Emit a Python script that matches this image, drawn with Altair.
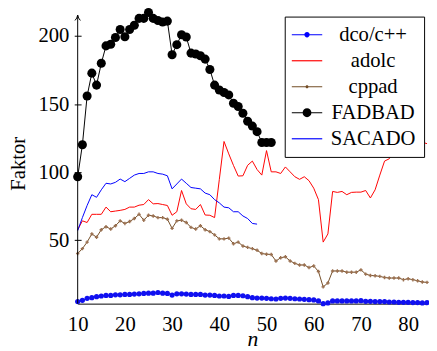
import altair as alt
import pandas as pd

series = ["dco/c++", "adolc", "cppad", "FADBAD", "SACADO"]
colors = ["#0000ff", "#ff0000", "#734d26", "#000000", "#0000ff"]

n_all = list(range(10, 85))
dco = [5.0, 5.9, 7.4, 7.9, 8.6, 9.1, 9.5, 9.5, 10.0, 10.0, 10.3, 10.3, 10.5, 10.7, 11.0,
       11.2, 11.2, 11.7, 11.2, 11.0, 9.8, 10.7, 10.7, 10.5, 10.3, 10.3, 10.3, 9.8, 9.8, 9.5,
       9.1, 9.1, 8.8, 9.5, 9.5, 9.3, 8.6, 7.9, 7.6, 7.6, 7.4, 7.1, 6.9, 7.4, 7.6,
       7.4, 7.1, 6.9, 6.7, 6.4, 6.2, 5.5, 3.5, 4.0, 5.5, 5.5, 5.5, 5.5, 5.5, 5.5,
       5.7, 5.2, 5.2, 5.0, 5.0, 5.0, 4.7, 4.7, 4.5, 4.5, 4.5, 4.3, 4.3, 4.0, 4.2]
adolc = [57.8, 64.3, 63.1, 69.1, 69.1, 69.1, 74.4, 71.0, 71.5, 72.0, 72.7, 74.4, 74.4, 75.8, 76.3,
         79.9, 76.8, 77.0, 76.3, 75.6, 68.4, 71.0, 86.6, 76.8, 73.2, 72.7, 76.3, 68.6, 68.4, 66.7,
         94.6, 122.6, 113.5, 105.0, 97.2, 97.4, 105.1, 108.2, 102.0, 97.9, 115.9, 100.3, 100.3, 99.1, 103.9,
         100.3, 96.7, 94.8, 96.7, 93.8, 88.3, 79.9, 48.7, 54.7, 85.9, 85.2, 85.9, 83.5, 85.2, 85.4,
         85.4, 86.6, 81.1, 87.1, 97.9, 108.2, 109.9, 116.0, 118.0, 120.0, 121.0, 122.0, 121.0, 122.0, 121.0]
cppad = [40.3, 43.9, 48.7, 54.7, 52.3, 57.8, 60.0, 58.3, 60.7, 64.3, 62.4, 63.8, 66.0, 69.1, 64.8,
         68.4, 67.9, 66.7, 66.7, 65.5, 58.8, 64.3, 64.8, 63.1, 59.5, 58.3, 60.7, 57.8, 56.4, 54.0,
         51.1, 51.1, 51.6, 47.5, 48.7, 45.8, 44.8, 43.9, 42.7, 40.3, 39.8, 39.6, 34.8, 37.2, 37.9,
         34.8, 33.1, 31.9, 31.9, 30.0, 31.2, 27.1, 15.8, 18.7, 27.5, 27.5, 27.5, 26.6, 26.6, 26.6,
         28.3, 25.2, 24.2, 24.0, 23.5, 22.7, 22.3, 22.3, 22.3, 21.1, 21.8, 21.1, 20.3, 19.4, 19.1]
n_fadbad = list(range(10, 52))
fadbad = [96.7, 120.2, 156.0, 172.8, 164.0, 180.0, 192.8, 194.0, 199.0, 204.8, 199.5, 204.8, 208.0, 213.0,
          213.0, 217.3, 213.0, 211.5, 210.3, 211.0, 186.3, 193.7, 201.0, 199.3, 187.5, 186.8, 185.6, 183.1,
          175.5, 164.0, 160.4, 158.6, 156.8, 150.7, 148.3, 143.3, 137.5, 133.9, 129.8, 121.9, 121.9, 121.9]
n_sacado = list(range(10, 49))
sacado = [57.1, 66.7, 75.6, 83.5, 81.6, 87.1, 91.9, 91.4, 92.6, 95.0, 93.1, 95.5, 97.9, 99.1, 99.1,
          100.3, 100.3, 99.1, 98.6, 97.4, 87.8, 91.4, 95.0, 91.9, 88.8, 88.3, 87.8, 84.7, 83.5, 79.9,
          77.5, 74.4, 73.9, 71.0, 71.0, 67.9, 66.0, 62.4, 61.9]

x_ticks = [10, 20, 30, 40, 50, 60, 70, 80]
y_ticks = [50, 100, 150, 200]

rows = []
for name, ns, vals in [("dco/c++", n_all, dco), ("adolc", n_all, adolc), ("cppad", n_all, cppad),
                       ("FADBAD", n_fadbad, fadbad), ("SACADO", n_sacado, sacado)]:
    for a, b in zip(ns, vals):
        rows.append({"n": a, "value": b, "series": name})
df = pd.DataFrame(rows)

FONT = "Liberation Serif"
W, H = 356, 294

x_enc = alt.X("n:Q", scale=alt.Scale(domain=[10, 84], nice=False, zero=False),
              axis=alt.Axis(values=x_ticks, title="n", grid=False, tickSize=0,
                            domainColor="black", domainWidth=1, labelFlush=False,
                            labelFont=FONT, labelFontSize=21, labelColor="black",
                            labelBaseline="alphabetic", labelPadding=27,
                            titleFont=FONT, titleFontSize=22, titleFontStyle="italic",
                            titleFontWeight="normal", titleColor="black",
                            titleBaseline="alphabetic", titleY=43))
y_enc = alt.Y("value:Q", scale=alt.Scale(domain=[3.5, 215.4], nice=False, zero=False),
              axis=alt.Axis(values=y_ticks, title="Faktor", grid=False, domain=False,
                            tickSize=7, offset=-3.5, tickColor="black", tickWidth=1,
                            labelFlush=False,
                            labelFont=FONT, labelFontSize=21, labelColor="black", labelPadding=5.5,
                            titleFont=FONT, titleFontSize=21, titleFontWeight="normal",
                            titleColor="black", titleAngle=-90, titleAlign="center",
                            titleBaseline="middle", titleX=-64, titleY=151))

def sub(name):
    return alt.Chart(df).transform_filter(alt.datum.series == name)

layers = []
# dco/c++
layers.append(sub("dco/c++").mark_line(color="#0000ff", strokeWidth=1).encode(x=x_enc, y=y_enc))
layers.append(sub("dco/c++").mark_point(filled=True, color="#1010f0", size=28, opacity=1).encode(x=x_enc, y=y_enc))
# adolc
layers.append(sub("adolc").mark_line(color="#ff0000", strokeWidth=1).encode(x=x_enc, y=y_enc))
# cppad
layers.append(sub("cppad").mark_line(color="#734d26", strokeWidth=1).encode(x=x_enc, y=y_enc))
layers.append(sub("cppad").mark_point(filled=True, shape="cross", color="#9a7050", size=12, opacity=1).encode(x=x_enc, y=y_enc))
# FADBAD
layers.append(sub("FADBAD").mark_line(color="#000000", strokeWidth=1).encode(x=x_enc, y=y_enc))
layers.append(sub("FADBAD").mark_point(filled=True, color="#000000", size=85, opacity=1).encode(x=x_enc, y=y_enc))
# SACADO
layers.append(sub("SACADO").mark_line(color="#0000ff", strokeWidth=1).encode(x=x_enc, y=y_enc))

# legend-only layer
L0, L1, T = -1.13, 1.97, 0.06
line_p = f"M{L0},{-T}L{L1},{-T}L{L1},{T}L{L0},{T}Z"
def dot(r, cx=0.42):
    return f"M{cx - r},0A{r},{r},0,1,1,{cx + r},0A{r},{r},0,1,1,{cx - r},0Z"
shapes = [line_p + dot(0.27), line_p, line_p + dot(0.16), line_p + dot(0.45), line_p]

legend_layer = alt.Chart(df).transform_filter("false").mark_point(filled=True, opacity=1).encode(
    x=x_enc, y=y_enc,
    color=alt.Color("series:N", scale=alt.Scale(domain=series, range=colors),
                    legend=alt.Legend(title=None, orient="none", legendX=211, legendY=1.5,
                                      padding=8, rowPadding=4.5, symbolSize=400,
                                      symbolStrokeWidth=0, labelFont=FONT, labelFontSize=21,
                                      labelColor="black", labelAlign="center", labelOffset=61,
                                      labelLimit=300, strokeColor="black", fillColor="white",
                                      cornerRadius=0, symbolOpacity=1)),
    shape=alt.Shape("series:N", scale=alt.Scale(domain=series, range=shapes)),
)
layers.append(legend_layer)

one = pd.DataFrame({"a": [0]})
axis_line = alt.Chart(one).mark_rule(color="black", strokeWidth=1).encode(
    x=alt.value(0), y=alt.value(0), y2=alt.value(H))
arrow = alt.Chart(one).mark_point(shape="M-1,1Q-0.2,0.2,0,-1Q0.2,0.2,1,1", filled=False,
                                   color="black", strokeWidth=1, size=30, opacity=1).encode(
    x=alt.value(0), y=alt.value(2.7))
layers += [axis_line, arrow]

chart = alt.layer(*layers).properties(
    width=W, height=H,
    padding={"left": 71, "top": 4, "right": 2, "bottom": 45},
    autosize=alt.AutoSizeParams(type="none"),
).configure_view(stroke=None).configure_axis(
    labelFont=FONT, titleFont=FONT
).configure_legend(
    labelFont=FONT, titleFont=FONT
).configure_text(font=FONT)

chart.save("out.html", embed_options={"renderer": "svg", "actions": False})
